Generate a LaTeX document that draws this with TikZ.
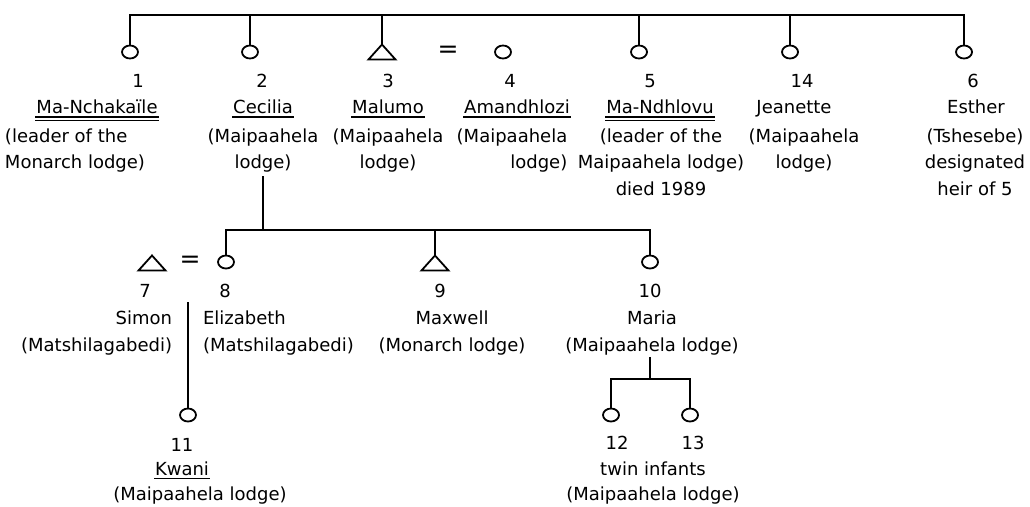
\documentclass[tikz,border=0pt]{standalone}
\usepackage{fontspec}
\setmainfont{DejaVu Sans}
\usetikzlibrary{calc,shapes.geometric}

\begin{document}
\begin{tikzpicture}[x=1pt,y=-1pt,line width=2pt,
  female/.style={ellipse,draw,minimum width=16pt,minimum height=13pt,inner sep=0pt,line width=1.8pt},
  male/.style={rectangle,minimum width=25pt,minimum height=13pt,inner sep=0pt},
  txt/.style={font=\fontsize{18}{26.5}\selectfont,inner sep=0pt},
  numlbl/.style={txt,anchor=base},
  pname/.style={txt,anchor=base},
  info/.style={txt,anchor=north,align=center},
  married/.style={txt,font=\fontsize{25}{25}\selectfont}]
\useasboundingbox (0,0) rectangle (1030,506);

% symbols
\foreach \p/\x/\y in {1/130/52,2/250/52,4/503/52,5/639/52,14/790/52,6/964/52,8/226/262,10/650/262,11/188/415,12/611/415,13/690/415}
  \node[female] (s\p) at (\x,\y) {};
\foreach \p/\x/\y in {3/382/52,7/152/263,9/435/263}
  \node[male] (s\p) at (\x,\y) {};
\foreach \p in {3,7,9}
  \draw[line width=1.8pt] (s\p.south west) -- (s\p.north) -- (s\p.south east) -- cycle;

% marriages
\node[married] (eq34) at (448,52) {=};
\node[married] (eq78) at (190,262) {=};

% numbers
\foreach \p/\x/\y in {1/138/87,2/262/87,3/388/87,4/510/87,5/650/87,14/802/87,6/973/87,7/145/297,8/225/297,9/440/297,10/650/297,11/182/451,12/617/449,13/693/449}
  \node[numlbl] (n\p) at (\x,\y) {\p};

% names
\node[pname] (nm1) at (97,113.5) {Ma-Nchakaïle};
\node[pname] (nm2) at (263,113.5) {Cecilia};
\node[pname] (nm3) at (388,113.5) {Malumo};
\node[pname] (nm4) at (517,113.5) {Amandhlozi};
\node[pname] (nm5) at (660,113.5) {Ma-Ndhlovu};
\node[pname] (nm14) at (794,113.5) {Jeanette};
\node[pname] (nm6) at (976,113.5) {Esther};
\node[pname] (nm11) at (182,475) {Kwani};

% lodges and notes
\node[info,anchor=north west,align=left] (d1) at (4,127.5) {(leader of the\\Monarch lodge)};
\node[info] (d2) at (263,127.5) {(Maipaahela\\lodge)};
\node[info] (d3) at (388,127.5) {(Maipaahela\\lodge)};
\node[info,align=right] (d4) at (512,127.5) {(Maipaahela\\lodge)};
\node[info] (d5) at (661,127.5) {(leader of the\\Maipaahela lodge)\\died 1989};
\node[info] (d14) at (804,127.5) {(Maipaahela\\lodge)};
\node[info] (d6) at (975,127.5) {(Tshesebe)\\designated\\heir of 5};
\node[info,anchor=north east,align=right] (d7) at (173,310) {Simon\\(Matshilagabedi)};
\node[info,anchor=north west,align=left] (d8) at (202,310) {Elizabeth\\(Matshilagabedi)};
\node[info] (d9) at (452,310) {Maxwell\\(Monarch lodge)};
\node[info] (d10) at (652,310) {Maria\\(Maipaahela lodge)};
\node[txt,anchor=base] (d11) at (200,500) {(Maipaahela lodge)};
\node[info,font=\fontsize{18}{25}\selectfont] (d12) at (653,461) {twin infants\\(Maipaahela lodge)};

% underlines
\foreach \p in {2,3,4,11}
  \draw[line width=1.5pt] ([yshift=-3.5pt]nm\p.base west) -- ([yshift=-3.5pt]nm\p.base east);
\foreach \p in {1,5} {
  \draw[line width=1.5pt] ([yshift=-3.5pt]nm\p.base west) -- ([yshift=-3.5pt]nm\p.base east);
  \draw[line width=1.5pt] ([yshift=-7pt]nm\p.base west) -- ([yshift=-7pt]nm\p.base east);
}

% first generation
\coordinate (bar) at (0,15);
\draw (s1.north) -- (s1.north |- bar) -- (s6.north |- bar) -- (s6.north);
\foreach \p in {2,3,5,14}
  \draw (s\p.north) -- (s\p.north |- bar);

% children of Cecilia
\coordinate (j2) at (263,230);
\draw ([yshift=-3pt]d2.south) -- (j2);
\draw (s8.north) |- (j2) -| (s10.north);
\draw (s9.north) -- (s9.north |- j2);

% child of Simon and Elizabeth
\coordinate (k11) at (188,302);
\draw (k11) -- (s11.north);

% twins of Maria
\coordinate (j10) at (650,379);
\draw ([yshift=-1pt]j10 |- d10.south) -- (j10);
\draw (s12.north) |- (j10) -| (s13.north);
\end{tikzpicture}
\end{document}
